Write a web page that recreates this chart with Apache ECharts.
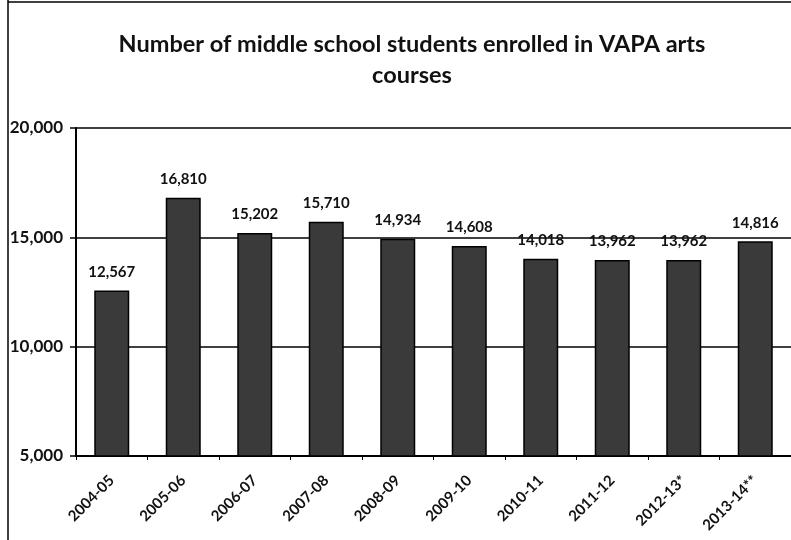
<!DOCTYPE html>
<html>
<head>
<meta charset="utf-8">
<script src="https://cdn.jsdelivr.net/npm/echarts@6/dist/echarts.min.js"></script>
<style>html,body{margin:0;padding:0;background:#fff;}#c{width:791px;height:540px;}</style>
</head>
<body>
<div id="c"></div>
<script>
var categories = ['2004-05','2005-06','2006-07','2007-08','2008-09','2009-10','2010-11','2011-12','2012-13*','2013-14**'];
var students = [12567, 16810, 15202, 15710, 14934, 14608, 14018, 13962, 13962, 14816];
var titleText = 'Number of middle school students enrolled in VAPA arts\ncourses';
var yMin = 5000, yMax = 20000, yStep = 5000;

var fmt = function (v) { return String(v).replace(/\B(?=(\d{3})+(?!\d))/g, ','); };
var FONT = 'Lato, "Open Sans", sans-serif';

var chart = echarts.init(document.getElementById('c'), null, {renderer: 'canvas'});
chart.setOption({
  animation: false,
  backgroundColor: '#ffffff',
  title: {
    text: titleText,
    left: 412, top: 29, textAlign: 'center', padding: 0,
    textStyle: {fontFamily: FONT, fontSize: 23.5, fontWeight: 'bold', color: '#111', lineHeight: 31}
  },
  grid: {left: 76, right: 0, top: 128, bottom: 84, containLabel: false},
  xAxis: {
    type: 'category', data: categories,
    axisLine: {show: true, lineStyle: {color: '#000', width: 2}},
    axisTick: {show: true, alignWithLabel: false, length: 4, lineStyle: {color: '#000', width: 1}},
    axisLabel: {rotate: 45, margin: 22, interval: 0, fontFamily: FONT, fontSize: 15, fontWeight: 'bold', color: '#111'}
  },
  yAxis: {
    type: 'value', min: yMin, max: yMax, interval: yStep,
    axisLine: {show: true, lineStyle: {color: '#000', width: 2}},
    axisTick: {show: true, length: 6, lineStyle: {color: '#000', width: 1.5}},
    splitLine: {show: true, lineStyle: {color: '#000', width: 1.5}},
    axisLabel: {margin: 13, formatter: fmt, fontFamily: FONT, fontSize: 17, fontWeight: 'bold', color: '#111'}
  },
  series: [{
    type: 'bar', data: students, barWidth: 35,
    itemStyle: {color: '#3a3a3a', borderColor: '#000', borderWidth: 1.5},
    label: {show: true, position: 'top', distance: 11, formatter: function (p) { return fmt(p.value); },
      fontFamily: FONT, fontSize: 15, fontWeight: 'bold', color: '#111'}
  }],
  graphic: [
    {type: 'line', shape: {x1: 8, y1: 0, x2: 8, y2: 540}, style: {stroke: '#000', lineWidth: 1.5}},
    {type: 'line', shape: {x1: 8, y1: 2, x2: 791, y2: 2}, style: {stroke: '#000', lineWidth: 1.5}}
  ]
});
</script>
</body>
</html>
